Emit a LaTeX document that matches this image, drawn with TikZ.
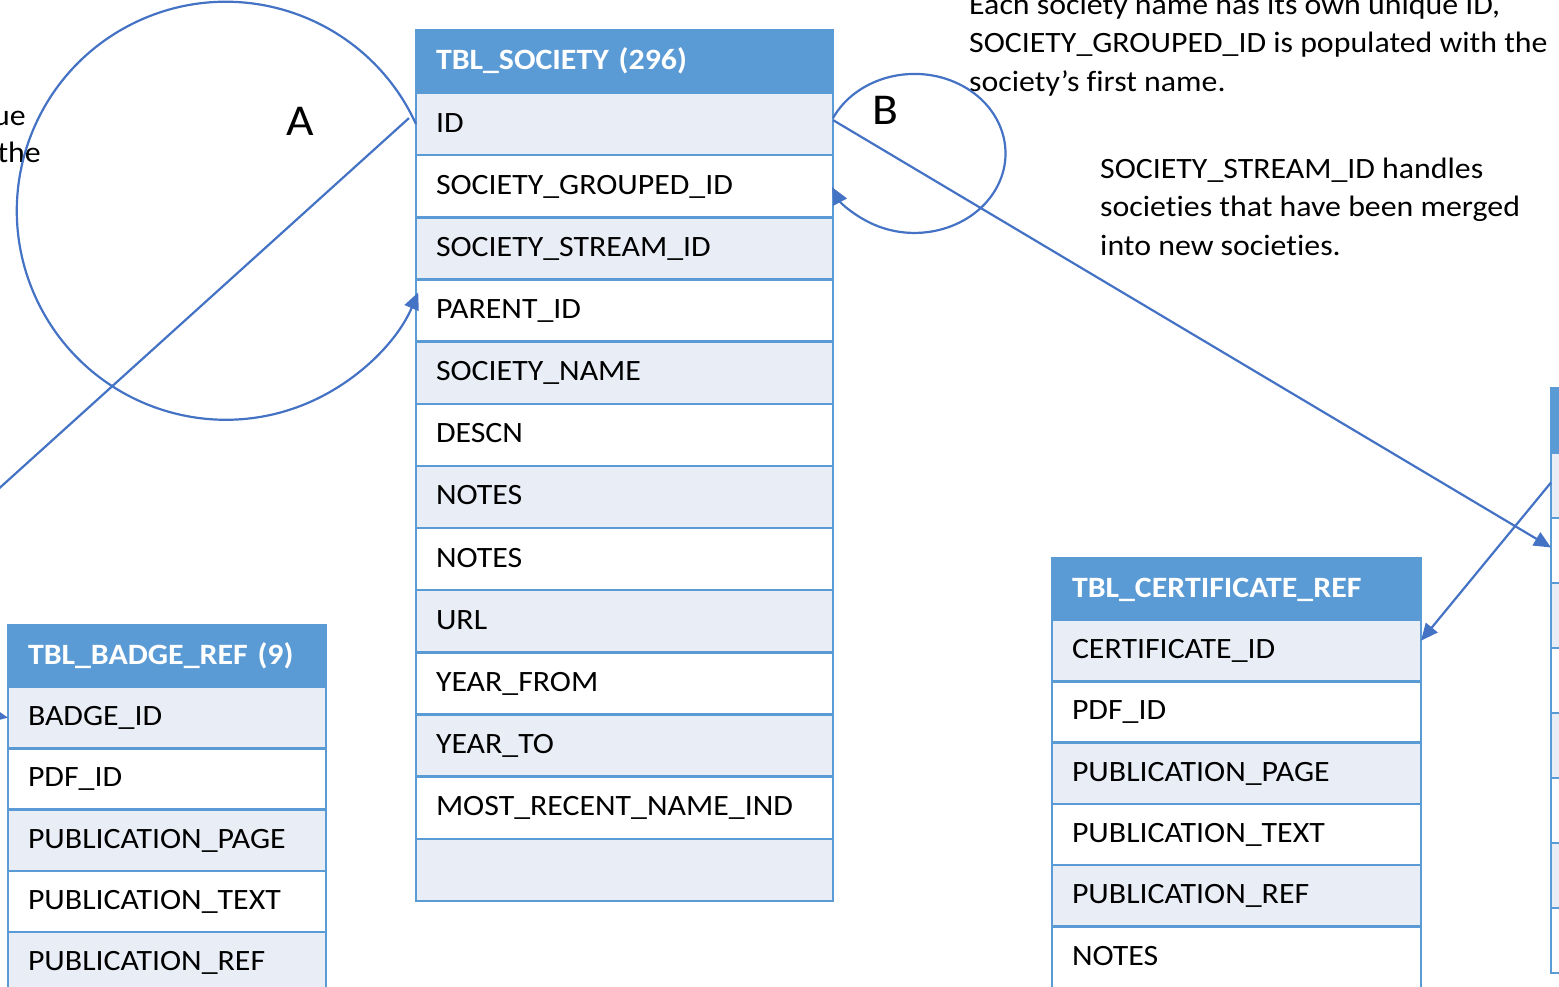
\documentclass[tikz,border=0pt]{standalone}
\usepackage{fontspec}
\setmainfont{Carlito}[FakeStretch=1.08, Ligatures=NoCommon]
\usetikzlibrary{arrows.meta}
\definecolor{hdr}{HTML}{5B9BD5}
\definecolor{band}{HTML}{E9EEF6}
\definecolor{conn}{HTML}{4472C4}
\tikzset{
  cell/.style={draw=hdr, line width=2.5pt, anchor=north west, inner xsep=20pt, inner ysep=0pt,
    outer sep=0pt, align=left, text height=21pt, text depth=5pt, font=\fontsize{29.5}{34}\selectfont},
  hcell/.style={cell, fill=hdr, text=white, font=\fontsize{29.5}{34}\selectfont\bfseries},
  link/.style={draw=conn, line width=2.2pt, -{Triangle[length=17pt,width=15pt]}},
  linkplain/.style={draw=conn, line width=2.2pt},
  note/.style={anchor=base west, inner sep=0pt, font=\fontsize{29.5}{34}\selectfont},
  bigletter/.style={anchor=base west, inner sep=0pt, font=\fontsize{44}{50}\selectfont},
}
\begin{document}
\begin{tikzpicture}[x=1pt,y=-1pt]
\useasboundingbox (0,0) rectangle (1559,986);
\clip (0,0) rectangle (1559,986);

% ---------- TBL_SOCIETY ----------
\node[hcell, minimum height=63pt, text width=377pt] (soc-h) at (416,30) {TBL\_SOCIETY (296)};
\foreach \t [count=\i] in {{ID},{SOCIETY\_GROUPED\_ID},{SOCIETY\_STREAM\_ID},{PARENT\_ID},{SOCIETY\_NAME},{DESCN},{NOTES},{NOTES},{URL},{YEAR\_FROM},{YEAR\_TO},{MOST\_RECENT\_NAME\_IND},{}}{
  \pgfmathsetmacro{\yy}{93+62.15*(\i-1)}
  \ifodd\i \def\rf{band}\else\def\rf{white}\fi
  \node[cell, fill=\rf, minimum height=62.15pt, text width=377pt] (soc-\i) at (416,\yy) {\t};
}

% ---------- TBL_BADGE_REF ----------
\node[hcell, minimum height=62pt, text width=278pt] (bdg-h) at (8,625) {TBL\_BADGE\_REF (9)};
\foreach \t [count=\i] in {{BADGE\_ID},{PDF\_ID},{PUBLICATION\_PAGE},{PUBLICATION\_TEXT},{PUBLICATION\_REF}}{
  \pgfmathsetmacro{\yy}{687+61.3*(\i-1)}
  \ifodd\i \def\rf{band}\else\def\rf{white}\fi
  \node[cell, fill=\rf, minimum height=61.3pt, text width=278pt] (bdg-\i) at (8,\yy) {\t};
}

% ---------- TBL_CERTIFICATE_REF ----------
\node[hcell, minimum height=62pt, text width=329pt] (crt-h) at (1052,558) {TBL\_CERTIFICATE\_REF};
\foreach \t [count=\i] in {{CERTIFICATE\_ID},{PDF\_ID},{PUBLICATION\_PAGE},{PUBLICATION\_TEXT},{PUBLICATION\_REF},{NOTES}}{
  \pgfmathsetmacro{\yy}{620+61.3*(\i-1)}
  \ifodd\i \def\rf{band}\else\def\rf{white}\fi
  \node[cell, fill=\rf, minimum height=61.3pt, text width=329pt] (crt-\i) at (1052,\yy) {\t};
}

% ---------- right table (cut off) ----------
\node[hcell, minimum height=65pt, text width=300pt] (rt-h) at (1551,388) {};
\foreach \i in {1,...,8}{
  \pgfmathsetmacro{\yy}{453+65*(\i-1)}
  \ifodd\i \def\rf{band}\else\def\rf{white}\fi
  \node[cell, fill=\rf, minimum height=65pt, text width=300pt] (rt-\i) at (1551,\yy) {};
}

% ---------- notes ----------
\node[note] (n1a) at (969,14) {Each society name has its own unique ID,};
\node[note] (n1b) at (969,52.5) {SOCIETY\_GROUPED\_ID is populated with the};
\node[note] (n1c) at (969,91) {society’s first name.};
\node[note] (n2a) at (1100,178) {SOCIETY\_STREAM\_ID handles};
\node[note] (n2b) at (1100,216.5) {societies that have been merged};
\node[note] (n2c) at (1100,255) {into new societies.};
\node[note, anchor=base east] (nLa) at (26,125) {ue};
\node[note, anchor=base east] (nLb) at (41,162) {the};
\node[bigletter] (lA) at (286,135) {A};
\node[bigletter] (lB) at (872,124) {B};

% ---------- connectors ----------
\coordinate (offL) at (-120,596);
\coordinate (offB) at (-80,702);
\draw[link] (soc-1.west) arc[start angle=-24.5, end angle=-337, radius=209];
\draw[link] ([yshift=6pt]soc-1.east) arc[start angle=-153.6, end angle=154.9, x radius=91, y radius=79.5];
\draw[linkplain] ([shift={(-7pt,6pt)}]soc-1.west) -- (offL);
\draw[link] ([yshift=4pt]soc-1.east) -- ([yshift=3pt]rt-2.west);
\draw[link] ([yshift=3pt]rt-1.west) -- ([yshift=10pt]crt-1.east);
\draw[link] (offB) -- (bdg-1.west);
\end{tikzpicture}
\end{document}
